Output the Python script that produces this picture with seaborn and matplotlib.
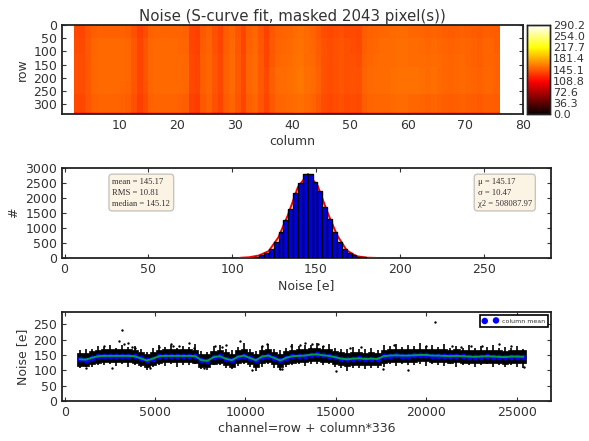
import numpy as np
import pandas as pd
import matplotlib
matplotlib.use("Agg")
import matplotlib.pyplot as plt
import seaborn as sns

# first two and last four columns are masked
columns = list(range(2, 76))
column_noise = [136, 135, 141, 146, 147, 147, 147, 147, 147, 146, 139, 132, 138, 146, 147, 147,
                147, 147, 147, 146, 133, 131, 143, 146, 138, 133, 144, 148, 140, 133, 145, 148,
                140, 132, 141, 146, 147, 148, 151, 152, 149, 147, 143, 138, 136, 138, 139, 137,
                138, 137, 146, 148, 149, 148, 148, 149, 150, 150, 148, 148, 147, 146, 147, 146,
                145, 144, 145, 146, 145, 144, 143, 145, 145, 144]
# solid part of the pixel cloud per column
core_low = [115, 114, 120, 125, 126, 126, 126, 126, 126, 125, 118, 111, 117, 125, 126, 126,
            126, 126, 126, 125, 112, 110, 122, 125, 117, 112, 123, 127, 119, 112, 124, 127,
            119, 111, 120, 125, 126, 127, 130, 131, 128, 126, 122, 117, 115, 117, 118, 116,
            117, 116, 125, 127, 128, 127, 127, 128, 129, 129, 127, 127, 126, 125, 126, 125,
            124, 123, 124, 125, 124, 123, 122, 124, 124, 123]
core_high = [157, 156, 162, 167, 168, 168, 168, 168, 168, 167, 160, 153, 159, 167, 168, 168,
             168, 168, 168, 167, 154, 152, 164, 167, 159, 154, 165, 169, 161, 154, 166, 169,
             161, 153, 162, 167, 168, 169, 172, 173, 170, 168, 164, 159, 157, 159, 160, 158,
             159, 158, 167, 169, 170, 169, 169, 170, 171, 171, 169, 169, 168, 167, 168, 167,
             166, 165, 166, 167, 166, 165, 164, 166, 166, 165]
# extremes of the cloud per column
noise_low = [108, 110, 112, 118, 116, 120, 114, 120, 112, 118, 110, 102, 112, 118, 114, 120,
             112, 118, 116, 120, 104, 100, 116, 118, 108, 104, 114, 120, 110, 98, 112, 120,
             108, 100, 110, 118, 120, 114, 122, 120, 116, 120, 112, 108, 98, 106, 108, 104,
             108, 106, 112, 120, 114, 120, 116, 118, 122, 114, 120, 118, 114, 120, 112, 118,
             116, 112, 118, 120, 112, 118, 110, 116, 112, 108]
noise_high = [165, 170, 168, 180, 176, 183, 174, 182, 176, 178, 170, 160, 172, 182, 175, 184,
              174, 180, 176, 186, 164, 160, 178, 182, 168, 166, 176, 190, 170, 164, 180, 186,
              170, 166, 174, 186, 178, 184, 182, 190, 180, 186, 174, 170, 168, 176, 170, 168,
              172, 166, 182, 178, 186, 176, 184, 178, 188, 178, 182, 177, 186, 174, 180, 174,
              182, 172, 178, 175, 184, 172, 176, 172, 180, 170]
outlier_channel = [3150, 20500, 3000, 3300, 3500, 3700, 9700, 5900, 6300, 6900, 11200, 13300, 13700,
                   14000, 14300, 8300, 16400, 23100, 24000, 2600, 10350, 12000, 15000, 19000, 7700,
                   1200, 4700, 8900, 11900, 17600, 21400, 25400, 2150, 3900, 5200, 6000, 7150, 8700,
                   10900, 12500, 13000, 15800, 18200, 20000, 21900, 22500, 24700]
outlier_noise = [232, 258, 195, 185, 190, 175, 195, 185, 180, 190, 185, 190, 185, 185, 180, 180,
                 175, 180, 185, 108, 100, 104, 98, 102, 106, 106, 108, 182, 105, 104, 180, 110,
                 178, 172, 176, 180, 174, 176, 178, 180, 182, 172, 182, 178, 176, 180, 178]

# row bands with an offset per 5 column block, for the patches in the map
band_edges = [0, 5, 50, 110, 160, 210, 260, 330, 336]
block_shift = [
    [-12, -12, -12, -12, -12, -12, -12, -12, -12, -12, -12, -12, -12, -12, -12, -12],
    [1, 1, 1, 2, 2, 2, 2, 2, 2, 1, 0, 2, 2, 2, 2, 2],
    [3, 4, 4, 4, 3, 3, 3, 3, 3, 3, 1, 4, 4, 4, 4, 3],
    [4, 4, 4, 4, 4, 4, 4, 4, 4, 3, 2, 4, 5, 5, 4, 4],
    [4, 4, 4, 4, 4, 4, 4, 6, 5, 3, 3, 5, 7, 5, 5, 4],
    [4, 4, 3, 4, 4, 4, 4, 6, 5, 3, 3, 5, 7, 5, 5, 4],
    [2, 2, 1, 2, 1, 2, 2, 3, 2, 1, 1, 2, 2, 2, 2, 2],
    [-10, -10, -10, -10, -10, -10, -10, -10, -10, -10, -10, -10, -10, -10, -10, -10],
]

bin_width = 2.902
first_bin = 36
bin_counts = [3, 6, 16, 42, 90, 175, 310, 540, 880, 1270, 1630, 2160, 2500, 2790, 2800, 2530,
              2250, 1700, 1290, 860, 540, 300, 160, 85, 40, 18, 8, 3]
fit_noise = [104.4, 110.2, 116.0, 121.8, 127.6, 133.4, 139.2, 145.2, 151.0, 156.8, 162.6, 168.4,
             174.2, 180.0, 185.8]
fit_counts = [6, 25, 85, 230, 690, 1450, 2360, 2800, 2410, 1530, 760, 250, 60, 12, 3]

cbar_ticks = [0.0, 36.3, 72.6, 108.8, 145.1, 181.4, 217.7, 254.0, 290.2]

sns.set_style("ticks")
plt.rcParams.update({
    "font.family": "DejaVu Sans",
    "axes.edgecolor": "#222222",
    "axes.linewidth": 1.3,
    "text.color": "#333333",
    "axes.labelcolor": "#333333",
    "xtick.color": "#333333",
    "ytick.color": "#333333",
    "xtick.direction": "in",
    "ytick.direction": "in",
    "xtick.top": True,
    "ytick.right": True,
    "xtick.major.size": 3,
    "ytick.major.size": 3,
    "xtick.labelsize": 9,
    "ytick.labelsize": 9,
    "axes.labelsize": 9,
})

W, H = 589.0, 441.0


def place(left, top, right, bottom):
    return [left / W, 1 - bottom / H, (right - left) / W, (bottom - top) / H]


fig = plt.figure(figsize=(5.89, 4.41), dpi=100, facecolor="white")
ax_map = fig.add_axes(place(62, 25, 523, 114))
ax_cbar = fig.add_axes(place(527, 25, 550, 114))
ax_hist = fig.add_axes(place(62, 168, 551, 258))
ax_chan = fig.add_axes(place(62, 312, 551, 401))

# noise map
rows = np.arange(336)
grid = np.full((336, 80), np.nan)
for c, val in zip(columns, column_noise):
    for b in range(len(band_edges) - 1):
        grid[band_edges[b]:band_edges[b + 1], c] = val + block_shift[b][min(c // 5, 15)]
sns.heatmap(pd.DataFrame(grid, index=rows), ax=ax_map, cbar_ax=ax_cbar, cmap="hot", vmin=0, vmax=290.2,
            xticklabels=False, yticklabels=False, rasterized=True,
            cbar_kws={"ticks": cbar_ticks, "format": "%.1f"})
ax_map.set_xlim(0, 80)
ax_map.set_ylim(336, 0)
ax_map.set_xticks(range(10, 90, 10))
ax_map.set_xticklabels(range(10, 90, 10))
ax_map.set_yticks(range(0, 350, 50))
ax_map.set_yticklabels(range(0, 350, 50), rotation=0)
ax_map.set_xlabel("column")
ax_map.set_ylabel("row")
ax_map.xaxis.set_label_coords(0.5, -0.236)
ax_map.yaxis.set_label_coords((29 - 62) / 461, 0.5)
ax_map.set_title("Noise (S-curve fit, masked 2043 pixel(s))", fontsize=10.8, pad=3)
for s in ax_map.spines.values():
    s.set_visible(True)
ax_cbar.tick_params(labelsize=8, length=0, pad=2)
for s in ax_cbar.spines.values():
    s.set_visible(True)
    s.set_linewidth(1.0)
ax_map.collections[0].colorbar.outline.set_visible(True)

# histogram
edges = bin_width * np.arange(first_bin, first_bin + len(bin_counts) + 1)
centers = (edges[:-1] + edges[1:]) / 2
sns.lineplot(x=fit_noise, y=fit_counts, ax=ax_hist, color="red", linewidth=1.4, zorder=3)
sns.histplot(x=centers, weights=bin_counts, bins=edges.tolist(), ax=ax_hist, color="#0000e6", alpha=1,
             edgecolor="black", linewidth=1.0, zorder=4)
ax_hist.set_xlim(-1.5, 290.2)
ax_hist.set_ylim(0, 3000)
ax_hist.set_xticks(range(0, 300, 50))
ax_hist.set_yticks(range(0, 3500, 500))
ax_hist.set_xlabel("Noise [e]")
ax_hist.set_ylabel("#")
ax_hist.xaxis.set_label_coords(0.5, -0.236)
ax_hist.yaxis.set_label_coords((20 - 62) / 489, 0.5)
box = dict(boxstyle="round,pad=0.4", facecolor="wheat", edgecolor="#666666", alpha=0.35)
ax_hist.text(0.103, 0.894, "mean = 145.17\nRMS = 10.81\nmedian = 145.12", transform=ax_hist.transAxes,
             fontsize=6.2, family="Liberation Serif", va="top", bbox=box, linespacing=1.5)
ax_hist.text(0.85, 0.894, "\u03bc = 145.17\n\u03c3 = 10.47\n\u03c72 = 508087.97", transform=ax_hist.transAxes,
             fontsize=6.2, family="Liberation Serif", va="top", bbox=box, linespacing=1.5)

# noise per channel
channel = np.array(columns) * 336 + 168
channel_edges = np.append(np.array(columns) * 336, (columns[-1] + 1) * 336)
ax_chan.fill_between(channel_edges, core_low + core_low[-1:], core_high + core_high[-1:], step="post",
                     color="black", linewidth=0.5)
ax_chan.vlines(channel, noise_low, noise_high, color="black", linewidth=1.2)
sns.scatterplot(x=outlier_channel, y=outlier_noise, ax=ax_chan, color="black", s=3, linewidth=0)
sns.scatterplot(x=channel, y=column_noise, ax=ax_chan, color="#0000ff", s=18, linewidth=0, label="column mean",
                zorder=3)
sns.lineplot(x=channel, y=column_noise, ax=ax_chan, color="#009a50", linewidth=1.4, zorder=4)
ax_chan.set_xlim(-150, 26900)
ax_chan.set_ylim(0, 290)
ax_chan.set_xticks(range(0, 30000, 5000))
ax_chan.set_yticks(range(0, 300, 50))
ax_chan.set_xlabel("channel=row + column*336")
ax_chan.set_ylabel("Noise [e]")
ax_chan.xaxis.set_label_coords(0.5, -0.236)
ax_chan.yaxis.set_label_coords((29 - 62) / 489, 0.5)
leg = ax_chan.legend(loc="upper right", fontsize=4.5, scatterpoints=2, markerscale=1.1, frameon=True, fancybox=False,
                     borderaxespad=0.5, borderpad=0.5, handletextpad=0.6, handlelength=2.4, framealpha=1,
                     edgecolor="black")
leg.get_frame().set_linewidth(1.2)

fig.savefig("out.png", dpi=100)
